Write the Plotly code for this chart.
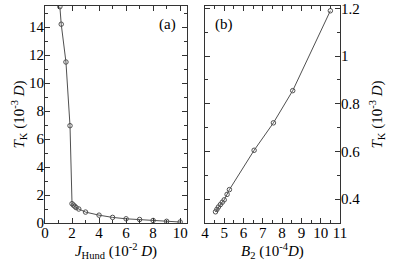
import plotly.graph_objects as go

# Panel (a)
j_hund = [1.1, 1.2, 1.55, 1.85, 2.0, 2.1, 2.2, 2.3, 2.5, 3, 4, 5, 6, 7, 8, 9, 10]
tk_a = [15.45, 14.2, 11.5, 6.95, 1.38, 1.28, 1.2, 1.1, 1.0, 0.78, 0.56, 0.4, 0.3, 0.25, 0.18, 0.12, 0.07]

# Panel (b)
b2 = [10.5, 8.55, 7.55, 6.55, 5.27, 5.15, 5.0, 4.9, 4.8, 4.7, 4.62, 4.55]
tk_b = [1.19, 0.855, 0.72, 0.605, 0.44, 0.42, 0.397, 0.387, 0.377, 0.367, 0.357, 0.347]

line_col = "#505050"
fnt = dict(family="Liberation Serif", size=15, color="black")

fig = go.Figure()
fig.add_trace(go.Scatter(x=j_hund, y=tk_a, mode="lines+markers", xaxis="x", yaxis="y",
                         line=dict(color=line_col, width=1),
                         marker=dict(symbol="circle-open", size=4.5, color=line_col, line=dict(width=1))))
fig.add_trace(go.Scatter(x=b2, y=tk_b, mode="lines+markers", xaxis="x2", yaxis="y2",
                         line=dict(color=line_col, width=1),
                         marker=dict(symbol="circle-open", size=4.5, color=line_col, line=dict(width=1))))

ax_common = dict(showline=True, linecolor="#333", linewidth=1, mirror="allticks", ticks="inside",
                 ticklen=5, tickcolor="#333", showgrid=False, zeroline=False, tickfont=fnt,
                 automargin=False)

fig.update_layout(
    width=395, height=265,
    margin=dict(l=45, r=55, t=6, b=42),
    paper_bgcolor="white", plot_bgcolor="white",
    showlegend=False,
    font=fnt,
    xaxis=dict(domain=[0, 0.481], range=[0, 10.5], dtick=2, anchor="y", ticklabelstandoff=-4,
               minor=dict(dtick=1, ticks="inside", ticklen=3, tickcolor="#333"),
               title=dict(text="<i>J</i><sub>Hund</sub> (10<sup>-2</sup> <i>D</i>)", font=fnt, standoff=0),
               **ax_common),
    yaxis=dict(domain=[0, 1], range=[0, 15.5], dtick=2, anchor="x", ticklabelstandoff=-3,
               minor=dict(dtick=1, ticks="inside", ticklen=3, tickcolor="#333"),
               title=dict(text="<i>T</i><sub>K</sub> (10<sup>-3</sup> <i>D</i>)", font=fnt, standoff=0),
               **ax_common),
    xaxis2=dict(domain=[0.542, 1], range=[4, 11], dtick=1, anchor="y2", ticklabelstandoff=-4,
                minor=dict(dtick=0.5, ticks="inside", ticklen=3, tickcolor="#333"),
                title=dict(text="<i>B</i><sub>2</sub> (10<sup>-4</sup><i>D</i>)", font=fnt, standoff=0),
                **ax_common),
    yaxis2=dict(domain=[0, 1], range=[0.3, 1.21], dtick=0.2, tick0=0, anchor="x2", side="right",
                ticklabelstandoff=-3,
                minor=dict(dtick=0.1, ticks="inside", ticklen=3, tickcolor="#333"),
                title=dict(text="<i>T</i><sub>K</sub> (10<sup>-3</sup> <i>D</i>)", font=fnt, standoff=12),
                **ax_common),
    annotations=[
        dict(text="(a)", x=0.414, y=0.965, xref="paper", yref="paper", showarrow=False, font=fnt),
        dict(text="(b)", x=0.607, y=0.965, xref="paper", yref="paper", showarrow=False, font=fnt),
    ],
)

fig.write_html("out.html", config={"displayModeBar": False},
               post_script="document.body.style.margin='0';document.body.style.padding='0';")
